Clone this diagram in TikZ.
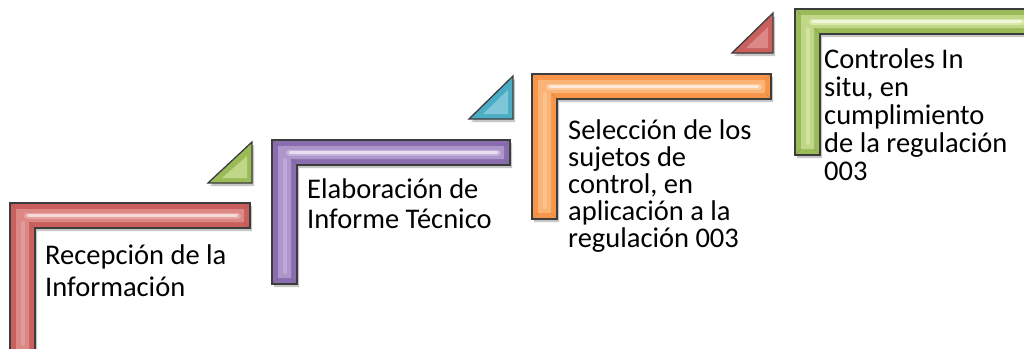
\documentclass[tikz,border=0pt]{standalone}
\usepackage{fontspec}
\setmainfont{Carlito}
\definecolor{outl}{HTML}{3C3C3C}
\definecolor{cred}{HTML}{C9605D}
\definecolor{credl}{HTML}{E8A3A1}
\definecolor{cpur}{HTML}{8A6DAE}
\definecolor{cpurl}{HTML}{C4B1DD}
\definecolor{cora}{HTML}{F7964A}
\definecolor{coral}{HTML}{FCC896}
\definecolor{cgre}{HTML}{9BBB59}
\definecolor{cgrel}{HTML}{D8EAA6}
\definecolor{cblu}{HTML}{4BACC6}
\definecolor{cblul}{HTML}{A3D8E6}
\tikzset{
  outline/.style={draw=outl, line width=1.3pt, line join=miter},
  shadowfill/.style={fill=black, opacity=0.22},
  steptext/.style={anchor=base west, inner sep=0pt, font=\fontsize{28.5}{30}\selectfont},
}
% #1 baselineskip, #2 lines separated by \cr
\newcommand\steplines[2]{\vtop{\baselineskip=#1pt\lineskiplimit=-60pt\lineskip=0pt\halign{##\hfil\cr #2\crcr}}}
% #1 X, #2 Y (top), #3 right, #4 bottom, #5 base colour, #6 light colour
\newcommand\stepshape[6]{%
  \fill[shadowfill] (#1+2,#2+3) -- (#3+2,#2+3) -- (#3+2,#2+28) -- (#1+27,#2+28) -- (#1+27,#4+3) -- (#1+2,#4+3) -- cycle;
  \fill[#5] (#1,#2) -- (#3,#2) -- (#3,#2+25) -- (#1+25,#2+25) -- (#1+25,#4) -- (#1,#4) -- cycle;
  \fill[#6!60!#5] (#1+6,#2+6) -- (#3-6,#2+6) -- (#3-6,#2+19) -- (#1+19,#2+19) -- (#1+19,#4-6) -- (#1+6,#4-6) -- cycle;
  \draw[#6, line width=6pt, line cap=round] (#1+17,#2+12.5) -- (#3-12,#2+12.5);
  \draw[white, opacity=0.6, line width=2.5pt, line cap=round] (#1+18,#2+12.5) -- (#3-13,#2+12.5);
  \draw[#6, opacity=0.7, line width=4pt, line cap=round] (#1+12.5,#2+20) -- (#1+12.5,#4-12);
  \draw[#5!70!black, opacity=0.35, line width=0.6pt] (#1,#2) -- (#1+6,#2+6) (#3,#2) -- (#3-6,#2+6) (#3,#2+25) -- (#3-6,#2+19) (#1+25,#2+25) -- (#1+19,#2+19) (#1+25,#4) -- (#1+19,#4-6) (#1,#4) -- (#1+6,#4-6);
  \draw[outline] (#1,#2) -- (#3,#2) -- (#3,#2+25) -- (#1+25,#2+25) -- (#1+25,#4) -- (#1,#4) -- cycle;
}
% #1 left x, #2 bottom y, #3 right x, #4 top y, #5 colour, #6 light
\newcommand\steptri[6]{%
  \fill[shadowfill] (#1+2,#2+3) -- (#3+2,#4+3) -- (#3+2,#2+3) -- cycle;
  \fill[#5] (#1,#2) -- (#3,#4) -- (#3,#2) -- cycle;
  \fill[#6!60!#5] (#1+14,#2-5) -- (#3-5,#4+14) -- (#3-5,#2-5) -- cycle;
  \draw[outline] (#1,#2) -- (#3,#4) -- (#3,#2) -- cycle;
}
\begin{document}
\begin{tikzpicture}[x=1pt,y=-1pt]
\useasboundingbox (0,0) rectangle (1024,348);
\clip (0,0) rectangle (1024,348);
\fill[white] (0,0) rectangle (1024,348);
% step 1
\stepshape{10}{203}{250}{356}{cred}{credl}
\steptri{208}{183}{252}{142}{cgre}{cgrel}
% step 2
\stepshape{272}{140}{510}{284}{cpur}{cpurl}
\steptri{469}{119}{513}{76}{cblu}{cblul}
% step 3
\stepshape{532}{74}{771}{219}{cora}{coral}
\steptri{732}{53}{773}{13}{cred}{credl}
% step 4
\stepshape{795}{9}{1034}{155}{cgre}{cgrel}
% texts
\node[steptext] (t1) at (45,264) {\steplines{32}{Recepción de la\cr Información}};
\node[steptext] (t2) at (307,198) {\steplines{30}{Elaboración de\cr Informe Técnico}};
\node[steptext] (t3) at (568,139) {\steplines{27}{Selección de los\cr sujetos de\cr control, en\cr aplicación a la\cr regulación 003}};
\node[steptext] (t4) at (824,68) {\steplines{28}{Controles In\cr situ, en\cr cumplimiento\cr de la regulación\cr 003}};
\end{tikzpicture}
\end{document}
